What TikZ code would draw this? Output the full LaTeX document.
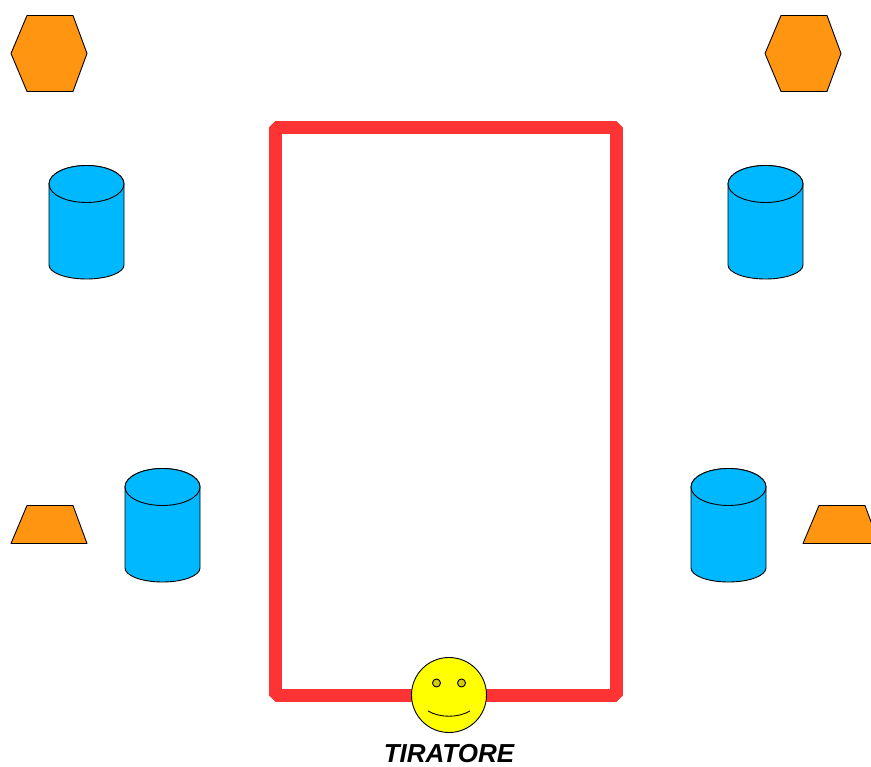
\documentclass[tikz,border=0pt]{standalone}
\usepackage{fontspec}
\setmainfont{Liberation Sans}
\usepackage{xcolor}
\usetikzlibrary{positioning}
\definecolor{orange}{HTML}{FF9510}
\definecolor{sky}{HTML}{00B8FF}
\definecolor{red}{HTML}{FF3333}
\definecolor{yellow}{HTML}{FFFF00}
\definecolor{eye}{HTML}{D8CC00}
\tikzset{
  outline/.style={draw=black,line width=0.9pt,line join=round},
  cone/.style={outline,fill=orange},
  barrel/.style={outline,fill=sky},
  field/.style={draw=red,line width=13pt,line join=bevel},
  head/.style={circle,outline,fill=yellow,minimum size=75pt,inner sep=0pt},
  eyeball/.style={circle,outline,fill=eye,minimum size=8pt,inner sep=0pt},
  label/.style={font=\fontsize{26}{30}\selectfont\bfseries\itshape,inner sep=0pt},
  hexagon/.pic={\path[cone] (-38,0) -- (-22,-38) -- (24,-38) -- (38,0) -- (24,38) -- (-22,38) -- cycle;},
  block/.pic={\path[cone] (-38,19) -- (-22,-19) -- (24,-19) -- (38,19) -- cycle;},
  barrelpic/.pic={
    \path[barrel] (-37.5,0) arc[start angle=180,end angle=0,x radius=37.5,y radius=-18.5]
      -- (37.5,81) arc[start angle=0,end angle=-180,x radius=37.5,y radius=-14] -- cycle;
    \path[barrel] (0,0) ellipse[x radius=37.5,y radius=18.5];
  }
}
\begin{document}
\begin{tikzpicture}[x=1pt,y=-1pt]
\useasboundingbox (0,0) rectangle (871,767);
\clip (0,0) rectangle (871,767);
\foreach \x in {49,803}
  \pic at (\x,53.5) {hexagon};
\foreach \x/\y in {86.5/184,765.5/184,162.5/487,728.5/487}
  \pic at (\x,\y) {barrelpic};
\foreach \x in {49,841}
  \pic at (\x,524.5) {block};
\coordinate (nw) at (275.5,128);
\coordinate (se) at (616.5,695);
\draw[field] (nw) rectangle (se);
\node[head] (shooter) at (449,695) {};
\node[eyeball] (lefteye) at (436.5,683) {};
\node[eyeball] (righteye) at (461.5,683) {};
\coordinate (smileL) at (428,711);
\coordinate (smileR) at (470,711);
\draw[outline] (smileL) .. controls (440,718) and (458,718) .. (smileR);
\node[label,below=11pt of shooter] (tiratore) {TIRATORE};
\end{tikzpicture}
\end{document}
